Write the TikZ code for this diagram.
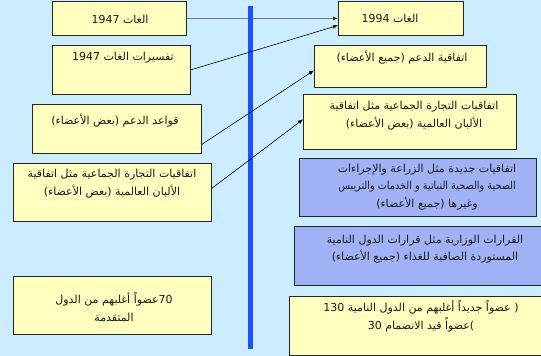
\documentclass[tikz,border=0pt]{standalone}
\usepackage{fontspec}
\TeXXeTstate=1
\newfontfamily\arabicfont[Script=Arabic]{DejaVu Sans}
\usetikzlibrary{arrows.meta}
\definecolor{bg}{RGB}{204,236,255}
\definecolor{ybox}{RGB}{255,255,192}
\definecolor{bbox}{RGB}{160,178,245}
\definecolor{vline}{RGB}{30,80,255}
\definecolor{grayline}{RGB}{110,125,140}
\begin{document}
\begin{tikzpicture}[x=1pt,y=-1pt,
  box/.style={draw=black!85,line width=0.8pt,fill=ybox,anchor=north west,inner sep=0pt},
  bluebox/.style={box,fill=bbox},
  txt/.style={font=\arabicfont\fontsize{11}{17.5}\selectfont,align=center,inner sep=0pt,text=black!90},
  conn/.style={line width=0.6pt,-{Latex[length=5pt,width=4pt]}}
]
\fill[bg] (0,0) rectangle (541,356);
\useasboundingbox (0,0) rectangle (541,356);

% left boxes
\node[box,minimum width=134pt,minimum height=34pt] (l1) at (52,1) {};
\node[box,minimum width=138pt,minimum height=49pt] (l2) at (52,45) {};
\node[box,minimum width=169pt,minimum height=49pt] (l3) at (32,104) {};
\node[box,minimum width=198pt,minimum height=58pt] (l4) at (13,163) {};
\node[box,minimum width=198pt,minimum height=58pt] (l5) at (13,276) {};

% right boxes
\node[box,minimum width=125pt,minimum height=34pt] (r1) at (338,1) {};
\node[box,minimum width=172pt,minimum height=42pt] (r2) at (314,45) {};
\node[box,minimum width=213pt,minimum height=55pt] (r3) at (303,94) {};
\node[bluebox,minimum width=237pt,minimum height=58pt] (r4) at (299,158) {};
\node[bluebox,minimum width=250pt,minimum height=59pt] (r5) at (294,226) {};
\node[box,minimum width=255pt,minimum height=59pt] (r6) at (289,296) {};

% texts
\node[txt] (tl1) at (120,19) {\beginR الغات 1947\endR};
\node[txt] (tl2) at (123,58) {\beginR تفسيرات الغات 1947\endR};
\node[txt] (tl3) at (115,121) {\beginR قواعد الدعم (بعض الأعضاء)\endR};
\node[txt] (tl4) at (112,183.5) {\beginR اتفاقيات التجارة الجماعية مثل اتفاقية\endR\\\beginR الألبان العالمية (بعض الأعضاء)\endR};
\node[txt] (tl5) at (114,307) {\beginR \mbox{70}\mbox{عضواً} أغلبهم من الدول\endR\\\beginR المتقدمة\endR};

\node[txt] (tr1) at (390,18) {\beginR الغات 1994\endR};
\node[txt] (tr2) at (402,58) {\beginR اتفاقية الدعم (جميع الأعضاء)\endR};
\node[txt] (tr3) at (414,115.5) {\beginR اتفاقيات التجارة الجماعية مثل اتفاقية\endR\\\beginR الألبان العالمية (بعض الأعضاء)\endR};
\node[txt] (tr4) at (427,187) {\beginR اتفاقيات جديدة مثل الزراعة والإجراءات\endR\\\scalebox{0.88}[1]{\beginR الصحية والصحية النباتية  و الخدمات والتريبس\endR}\\\beginR وغيرها (جميع الأعضاء)\endR};
\node[txt] (tr5) at (425,249) {\beginR القرارات الوزارية مثل قرارات الدول النامية\endR\\\beginR المستوردة الصافية للغذاء (جميع الأعضاء)\endR};
\node[txt] (tr6) at (421,316) {\mbox{130}\ \mbox{\beginR عضواً جديداً أغلبهم من الدول النامية\endR}\ \mbox{(}\\\mbox{30}\ \mbox{\beginR عضواً قيد الانضمام\endR}\mbox{)}};

% connectors
\draw[conn,draw=grayline,line width=1.4pt,-{Latex[length=5pt,width=4pt,color=black!80]}] (l1.east) -- (l1.east -| r1.west);
\draw[vline,line width=4.5pt] (250.5,6) -- (250.5,349);
\draw[conn] (l2.east) -- ([yshift=-7pt]r1.west);
\draw[conn] ([yshift=-15.5pt]l3.east) -- ([yshift=-4pt]r2.west);
\draw[conn] ([yshift=4pt]l4.east) -- ([yshift=2.5pt]r3.west);
\end{tikzpicture}
\end{document}
